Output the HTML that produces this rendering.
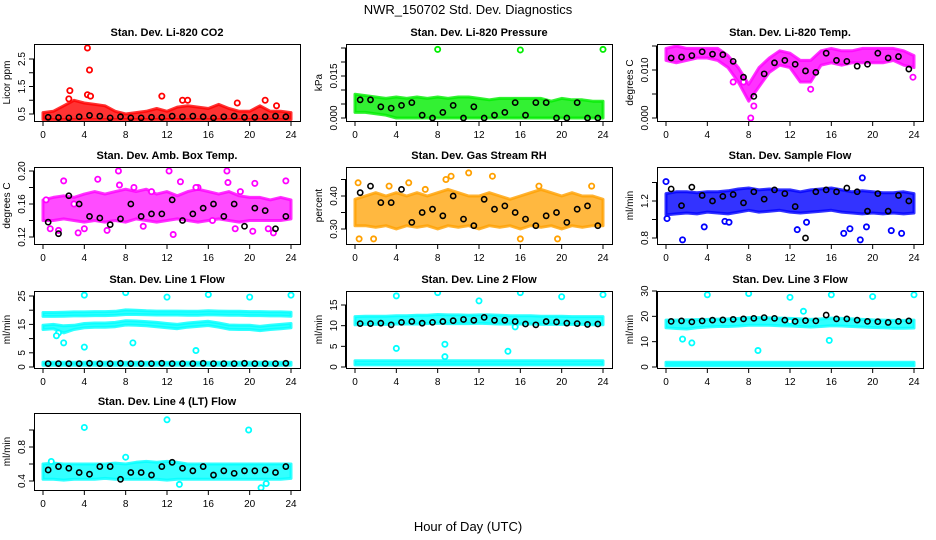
<!DOCTYPE html>
<html><head><meta charset="utf-8">
<style>
html,body{margin:0;padding:0;background:#fff;}
svg{display:block;font-family:"Liberation Sans",sans-serif;}
</style></head>
<body>
<svg id="chart" width="936" height="540" viewBox="0 0 936 540" xmlns="http://www.w3.org/2000/svg">
<rect x="0" y="0" width="936" height="540" fill="#fff"/>
<text x="468" y="14" font-size="13" text-anchor="middle">NWR_150702  Std. Dev. Diagnostics</text>
<text x="468" y="531" font-size="13" text-anchor="middle">Hour of Day (UTC)</text>
</svg>
<script>
const bandHours=[0,1,2,3,4,5,6,7,8,9,10,11,12,13,14,15,16,17,18,19,20,21,22,23,24];
const blackHours=[0.5,1.5,2.5,3.5,4.5,5.5,6.5,7.5,8.5,9.5,10.5,11.5,12.5,13.5,14.5,15.5,16.5,17.5,18.5,19.5,20.5,21.5,22.5,23.5];
const xTicks=[0,4,8,12,16,20,24];

const co2Lo=[0.3,0.3,0.3,0.3,0.3,0.3,0.3,0.3,0.3,0.3,0.3,0.3,0.3,0.3,0.3,0.3,0.3,0.3,0.3,0.3,0.3,0.3,0.3,0.3,0.3];
const co2Hi=[0.55,0.6,0.8,1.0,0.9,0.85,0.8,0.6,0.5,0.55,0.6,0.7,0.6,0.75,0.8,0.75,0.7,0.85,0.7,0.6,0.6,0.8,0.6,0.6,0.55];
const co2Black=[0.38,0.37,0.36,0.4,0.45,0.42,0.36,0.4,0.36,0.36,0.38,0.38,0.42,0.4,0.42,0.4,0.36,0.4,0.42,0.38,0.38,0.4,0.42,0.4];
const co2OutX=[4.3,4.5,2.6,11.5,4.3,4.6,13.5,14,21.5,22.6,2.5,18.8];
const co2OutY=[2.9,2.1,1.35,1.15,1.2,1.15,1.0,1.0,1.0,0.8,1.05,0.9];

const presLo=[0.002,0.002,0.0015,0.001,0,0,0,0,0,0,0,0,0,0,0,0,0,0,0,0,0,0,0,0,0];
const presHi=[0.0085,0.008,0.0075,0.007,0.0075,0.007,0.0075,0.007,0.0075,0.007,0.0075,0.0075,0.007,0.0065,0.007,0.007,0.007,0.007,0.007,0.006,0.007,0.0065,0.0065,0.006,0.006];
const presBlack=[0.0065,0.0065,0.004,0.0035,0.0045,0.0055,0.001,0,0.002,0.0045,0,0.004,0,0.001,0.002,0.0055,0.001,0.0055,0.0055,0,0,0.0055,0,0];
const presOutX=[8,16,24];
const presOutY=[0.0245,0.0243,0.0245];

const tempLo=[0.012,0.0115,0.012,0.0125,0.0125,0.012,0.0105,0.0075,0.0035,0.0065,0.0095,0.011,0.0105,0.0075,0.0075,0.011,0.0115,0.011,0.0115,0.0115,0.0115,0.0115,0.012,0.011,0.0105];
const tempHi=[0.0145,0.015,0.0145,0.0145,0.0145,0.0145,0.013,0.0105,0.007,0.0105,0.0125,0.014,0.0135,0.012,0.012,0.014,0.0145,0.014,0.014,0.0145,0.0145,0.0145,0.0145,0.014,0.013];
const tempBlack=[0.0125,0.0127,0.013,0.0138,0.0133,0.0132,0.0118,0.0085,0.0045,0.0092,0.0115,0.012,0.0112,0.0098,0.0095,0.0135,0.012,0.0118,0.0108,0.0112,0.0135,0.0125,0.0128,0.0102];
const tempOutX=[8.2,8.5,7.5,14,6.5,23.9];
const tempOutY=[0,0.0025,0.0075,0.006,0.0075,0.0085];

const ambLo=[0.14,0.14,0.142,0.14,0.138,0.14,0.138,0.14,0.138,0.142,0.14,0.138,0.14,0.142,0.14,0.138,0.14,0.142,0.14,0.138,0.14,0.14,0.14,0.14,0.142];
const ambHi=[0.165,0.168,0.17,0.168,0.172,0.175,0.172,0.175,0.178,0.175,0.178,0.172,0.175,0.17,0.175,0.178,0.175,0.172,0.175,0.17,0.168,0.168,0.165,0.168,0.165];
const ambBlack=[0.138,0.124,0.17,0.16,0.145,0.143,0.135,0.142,0.16,0.145,0.148,0.148,0.165,0.14,0.148,0.155,0.16,0.145,0.16,0.133,0.155,0.152,0.13,0.145];
const ambOutX=[0.3,2,4,5.3,7.3,8.8,12.2,13.3,15,17.8,17.9,18.6,20.5,21.8,23.5,0.7,3,6.2,9.7,12.6,14.8,19.1,22.3,1.5,10.5,16.4,3.4,7.4,20.3];
const ambOutY=[0.165,0.188,0.13,0.19,0.2,0.18,0.2,0.187,0.18,0.2,0.186,0.13,0.185,0.13,0.188,0.13,0.16,0.128,0.133,0.123,0.18,0.175,0.125,0.128,0.175,0.14,0.125,0.183,0.127];

const rhLo=[0.31,0.31,0.305,0.31,0.3,0.31,0.305,0.31,0.3,0.31,0.305,0.31,0.3,0.31,0.305,0.31,0.3,0.31,0.305,0.31,0.3,0.31,0.305,0.31,0.31];
const rhHi=[0.39,0.4,0.41,0.4,0.41,0.4,0.41,0.4,0.41,0.42,0.41,0.4,0.4,0.41,0.4,0.39,0.4,0.41,0.42,0.41,0.4,0.41,0.4,0.4,0.39];
const rhBlack=[0.41,0.43,0.38,0.38,0.42,0.32,0.35,0.36,0.34,0.40,0.33,0.31,0.39,0.36,0.37,0.35,0.33,0.31,0.34,0.35,0.32,0.36,0.37,0.31];
const rhOutX=[0.3,3.3,5.2,8.8,9.3,11,13.3,16,19.6,0.4,1.8,22.9,17.8,6.8];
const rhOutY=[0.44,0.43,0.44,0.45,0.46,0.47,0.46,0.27,0.27,0.27,0.27,0.43,0.43,0.42];

const flowLo=[1.05,1.06,1.07,1.06,1.08,1.07,1.06,1.08,1.1,1.08,1.09,1.1,1.08,1.07,1.08,1.09,1.1,1.08,1.07,1.06,1.07,1.06,1.07,1.06,1.07];
const flowHi=[1.28,1.3,1.3,1.29,1.3,1.3,1.31,1.33,1.34,1.32,1.33,1.32,1.32,1.3,1.32,1.33,1.34,1.32,1.3,1.31,1.3,1.29,1.29,1.3,1.28];
const flowBlack=[1.33,1.15,1.35,1.26,1.2,1.25,1.27,1.18,1.3,1.22,1.32,1.28,1.14,0.8,1.3,1.32,1.3,1.34,1.3,1.09,1.28,1.09,1.26,1.2];
const flowOutX=[0,0.1,1.6,3.7,5.7,12.7,13.6,17.2,17.8,18.8,19.4,21.8,19,22.8,6.1];
const flowOutY=[1.41,1.01,0.78,0.92,0.98,0.89,0.97,0.85,0.9,0.78,0.92,0.88,1.45,0.85,0.97];

const l1UpLo=[17.8,17.8,17.9,18,18,18.1,18.1,18.2,18.5,18.5,18.4,18.3,18.3,18.3,18.2,18.2,18.4,18.3,18.2,18.2,18.1,18.1,18,18,17.9];
const l1UpHi=[19.2,19.2,19.3,19.4,19.4,19.5,19.5,19.6,20.1,20,19.8,19.7,19.7,19.7,19.6,19.6,19.8,19.7,19.6,19.6,19.5,19.5,19.4,19.4,19.3];
const l1MidLo=[13.2,13.5,12,13.2,13.8,14,14,14.2,14.8,14.7,14.5,14.2,13.8,13.5,14,14.3,14.6,14,13.3,13.2,13.2,12.8,13.2,13.5,13.8];
const l1MidHi=[14.7,15,14.5,14.7,15.3,15.5,15.5,15.7,16.3,16.2,16,15.7,15.3,15,15.5,15.8,16.1,15.5,14.8,14.7,14.7,14.3,14.7,15,15.3];
const l1BotLo=[0.6,0.6,0.6,0.6,0.6,0.6,0.6,0.6,0.6,0.6,0.6,0.6,0.6,0.6,0.6,0.6,0.6,0.6,0.6,0.6,0.6,0.6,0.6,0.6,0.6];
const l1BotHi=[1.7,1.7,1.7,1.7,1.7,1.7,1.7,1.7,1.7,1.7,1.7,1.7,1.7,1.7,1.7,1.7,1.7,1.7,1.7,1.7,1.7,1.7,1.7,1.7,1.7];
const l1Black=[1.2,1.2,1.2,1.2,1.3,1.2,1.2,1.3,1.2,1.2,1.2,1.3,1.2,1.2,1.2,1.3,1.2,1.2,1.2,1.3,1.2,1.2,1.2,1.3];
const l1OutX=[4,8,12,16,20,24,4,8.7,14.8,1.5,2.0,1.3];
const l1OutY=[25.3,26.2,24.6,25.5,24.6,25.3,7,8.5,5.8,12,8.5,11];

const l2UpLo=[10.2,10.3,10.3,10.3,10.4,10.4,10.4,10.5,10.6,10.5,10.5,10.5,10.6,10.5,10.4,10.4,10.4,10.4,10.3,10.3,10.3,10.3,10.3,10.2,10.2];
const l2UpHi=[12.2,12.3,12.3,12.3,12.4,12.4,12.5,12.5,12.7,12.6,12.6,12.5,12.6,12.6,12.5,12.4,12.4,12.4,12.3,12.3,12.3,12.2,12.2,12.2,12.2];
const l2BotLo=[0.5,0.5,0.5,0.5,0.5,0.5,0.5,0.5,0.5,0.5,0.5,0.5,0.5,0.5,0.5,0.5,0.5,0.5,0.5,0.5,0.5,0.5,0.5,0.5,0.5];
const l2BotHi=[1.5,1.5,1.5,1.5,1.5,1.5,1.5,1.5,1.5,1.5,1.5,1.5,1.5,1.5,1.5,1.5,1.5,1.5,1.5,1.5,1.5,1.5,1.5,1.5,1.5];
const l2Black=[10.5,10.5,10.6,10.2,10.8,11,10.6,10.8,11,11.2,11.5,11.3,12,11.3,11.3,11,10.4,10.2,11,10.9,10.6,10.5,10.3,10.4];
const l2OutX=[4,8,12,16,20,24,4,8.7,8.7,14.8,15.5];
const l2OutY=[17.2,18,16,18,17,17.5,4.5,5.5,2.5,3.8,9.7];

const l3UpLo=[15.5,15.2,15,15.5,15.8,16,16,16.2,16.5,16.5,16.5,16.3,16.2,16,15.8,16,16.3,16.2,16,15.8,15.6,15.5,15.3,15.3,15.4];
const l3UpHi=[18.5,18.5,18.6,18.7,18.8,18.9,19,19.2,19.5,19.5,19.4,19.3,19.2,19,18.8,19,19.3,19.2,19,18.8,18.6,18.5,18.4,18.4,18.5];
const l3BotLo=[0.5,0.5,0.5,0.5,0.5,0.5,0.5,0.5,0.5,0.5,0.5,0.5,0.5,0.5,0.5,0.5,0.5,0.5,0.5,0.5,0.5,0.5,0.5,0.5,0.5];
const l3BotHi=[1.9,1.9,1.9,1.9,1.9,1.9,1.9,1.9,1.9,1.9,1.9,1.9,1.9,1.9,1.9,1.9,1.9,1.9,1.9,1.9,1.9,1.9,1.9,1.9,1.9];
const l3Black=[18,18.2,17.8,18.2,18.5,18.6,18.8,19,19.2,19.5,19.2,18.5,18,18.3,18.2,20.5,19,19,18.5,18,17.9,17.6,18,18.2];
const l3OutX=[4,8,12,16,20,24,1.6,2.5,8.9,15.8,13.3,12];
const l3OutY=[28.5,29,27.5,28.5,27.8,28.5,11,9.5,6.5,10.5,22,18];

const l4Lo=[0.42,0.42,0.41,0.42,0.42,0.42,0.43,0.42,0.42,0.42,0.42,0.42,0.41,0.42,0.42,0.42,0.42,0.42,0.42,0.42,0.42,0.42,0.42,0.42,0.43];
const l4Hi=[0.6,0.61,0.6,0.6,0.6,0.6,0.6,0.61,0.6,0.62,0.63,0.62,0.63,0.62,0.6,0.6,0.6,0.6,0.6,0.6,0.6,0.6,0.6,0.6,0.6];
const l4Black=[0.53,0.57,0.55,0.5,0.48,0.57,0.57,0.42,0.5,0.5,0.47,0.57,0.62,0.55,0.52,0.57,0.47,0.52,0.49,0.52,0.52,0.53,0.5,0.57];
const l4OutX=[4,12,19.9,8,21.1,21.6,13.2,0.8];
const l4OutY=[1.03,1.12,1.0,0.68,0.32,0.37,0.36,0.63];

const NS='http://www.w3.org/2000/svg';
const svg=document.getElementById('chart');
function mk(tag,attrs,parent){const e=document.createElementNS(NS,tag);for(const k in attrs)e.setAttribute(k,attrs[k]);(parent||svg).appendChild(e);return e;}

const panels=[
 {id:'co2',title:'Stan. Dev. Li-820 CO2',ylab:'Licor ppm',L:34,T:44,color:'#ff0000',r:[0.5,114,2.5,59],ticks:[0.5,1,1.5,2,2.5],labels:[0.5,1.5,2.5],fmt:1,bands:[[co2Lo,co2Hi]],black:co2Black,ox:co2OutX,oy:co2OutY},
 {id:'pressure',title:'Stan. Dev. Li-820 Pressure',ylab:'kPa',L:346,T:44,color:'#00ee00',r:[0,118,0.015,76],ticks:[0,0.005,0.01,0.015,0.02,0.025],labels:[0,0.015],fmt:3,bands:[[presLo,presHi]],black:presBlack,ox:presOutX,oy:presOutY},
 {id:'temp',title:'Stan. Dev. Li-820 Temp.',ylab:'degrees C',L:657,T:44,color:'#ff00ff',r:[0,118,0.01,70],ticks:[0,0.005,0.01,0.015],labels:[0,0.01],fmt:3,bands:[[tempLo,tempHi]],black:tempBlack,ox:tempOutX,oy:tempOutY},
 {id:'amb-box-temp',title:'Stan. Dev. Amb. Box Temp.',ylab:'degrees C',L:34,T:167,color:'#ff00ff',r:[0.12,237,0.2,171],ticks:[0.12,0.14,0.16,0.18,0.2],labels:[0.12,0.16,0.2],fmt:2,bands:[[ambLo,ambHi]],black:ambBlack,ox:ambOutX,oy:ambOutY,op:0.7},
 {id:'gas-rh',title:'Stan. Dev. Gas Stream RH',ylab:'percent',L:346,T:167,color:'#ffa000',r:[0.3,229,0.4,196],ticks:[0.3,0.35,0.4,0.45],labels:[0.3,0.4],fmt:2,bands:[[rhLo,rhHi]],black:rhBlack,ox:rhOutX,oy:rhOutY,op:0.75},
 {id:'sample-flow',title:'Stan. Dev. Sample Flow',ylab:'ml/min',L:657,T:167,color:'#0000ff',r:[0.8,238,1.2,201],ticks:[0.8,1.0,1.2,1.4],labels:[0.8,1.2],fmt:1,bands:[[flowLo,flowHi]],black:flowBlack,ox:flowOutX,oy:flowOutY,op:0.8},
 {id:'line1',title:'Stan. Dev. Line 1 Flow',ylab:'ml/min',L:34,T:291,color:'#00ffff',r:[0,367,25,296],ticks:[0,5,10,15,20,25],labels:[0,5,15,25],fmt:0,bands:[[l1UpLo,l1UpHi],[l1MidLo,l1MidHi],[l1BotLo,l1BotHi]],black:l1Black,ox:l1OutX,oy:l1OutY},
 {id:'line2',title:'Stan. Dev. Line 2 Flow',ylab:'ml/min',L:346,T:291,color:'#00ffff',r:[0,367,15,305],ticks:[0,5,10,15],labels:[0,5,10,15],fmt:0,bands:[[l2UpLo,l2UpHi],[l2BotLo,l2BotHi]],black:l2Black,ox:l2OutX,oy:l2OutY},
 {id:'line3',title:'Stan. Dev. Line 3 Flow',ylab:'ml/min',L:657,T:291,color:'#00ffff',r:[0,367,30,291],ticks:[0,10,20,30],labels:[0,10,20,30],fmt:0,bands:[[l3UpLo,l3UpHi],[l3BotLo,l3BotHi]],black:l3Black,ox:l3OutX,oy:l3OutY},
 {id:'line4',title:'Stan. Dev. Line 4 (LT) Flow',ylab:'ml/min',L:34,T:413,color:'#00ffff',r:[0.4,481,0.8,447],ticks:[0.4,0.6,0.8,1.0],labels:[0.4,0.8],fmt:1,bands:[[l4Lo,l4Hi]],black:l4Black,ox:l4OutX,oy:l4OutY}
];
const W=266,H=77;
panels.forEach(p=>{
  const g=mk('g',{});
  
  
  const xs=h=>p.L+9+h*(W-18)/24;
  const ys=v=>p.r[1]+(v-p.r[0])*(p.r[3]-p.r[1])/(p.r[2]-p.r[0]);
  const B=p.T+H;
  const t=mk('text',{x:p.L+W/2,y:p.T-8,'font-size':11,'font-weight':'bold','text-anchor':'middle'},g);
  t.textContent=p.title;
  
  
  const clip=mk('clipPath',{id:'c-'+p.id},g);
  mk('rect',{x:p.L,y:p.T,width:W,height:H},clip);
  const pg=mk('g',{'clip-path':'url(#c-'+p.id+')'},g);
  p.bands.forEach(b=>{
    let d='';
    bandHours.forEach((h,i)=>{d+=(i?'L':'M')+xs(h).toFixed(1)+','+ys(b[1][i]).toFixed(1);});
    for(let i=bandHours.length-1;i>=0;i--)d+='L'+xs(bandHours[i]).toFixed(1)+','+ys(b[0][i]).toFixed(1);
    const band=mk('path',{d:d+'Z',fill:p.color,'fill-opacity':p.op||0.8,stroke:p.color,'stroke-opacity':0.8,'stroke-width':3,'stroke-linejoin':'round'},pg);
    
    
  });
  p.ox.forEach((x,i)=>{
    const c=mk('circle',{cx:xs(x),cy:ys(p.oy[i]),r:2.6,fill:'#fff',stroke:p.color,'stroke-width':1.8},pg);
    
    
  });
  p.black.forEach((v,i)=>{
    const c=mk('circle',{cx:xs(blackHours[i]),cy:ys(v),r:2.6,fill:'none',stroke:'#000','stroke-width':1.6},pg);
    
    
  });
  const frame=mk('rect',{x:p.L+0.5,y:p.T+0.5,width:W,height:H,fill:'none',stroke:'#000','stroke-width':1},g);
  
  
  xTicks.forEach(h=>{
    mk('line',{x1:xs(h),x2:xs(h),y1:B,y2:B+5,stroke:'#000'},g);
    const tl=mk('text',{x:xs(h),y:B+17,'font-size':10,'text-anchor':'middle'},g);
    tl.textContent=h;
    
    
  });
  p.ticks.forEach(v=>{
    mk('line',{x1:p.L-5,x2:p.L,y1:ys(v),y2:ys(v),stroke:'#000'},g);
  });
  mk('line',{x1:p.L-0.5,x2:p.L-0.5,y1:ys(p.ticks[0]),y2:ys(p.ticks[p.ticks.length-1]),stroke:'#000'},g);
  p.labels.forEach(v=>{
    const yy=ys(v);
    const tl=mk('text',{x:p.L-9,y:yy,'font-size':10,'text-anchor':'middle',transform:'rotate(-90 '+(p.L-9)+' '+yy+')'},g);
    tl.textContent=v.toFixed(p.fmt);
    
    
  });
  const yt=p.T+H/2;
  const yl=mk('text',{x:p.L-24,y:yt,'font-size':10,'text-anchor':'middle',transform:'rotate(-90 '+(p.L-24)+' '+yt+')'},g);
  yl.textContent=p.ylab;
  
  
});
</script>
</body></html>
